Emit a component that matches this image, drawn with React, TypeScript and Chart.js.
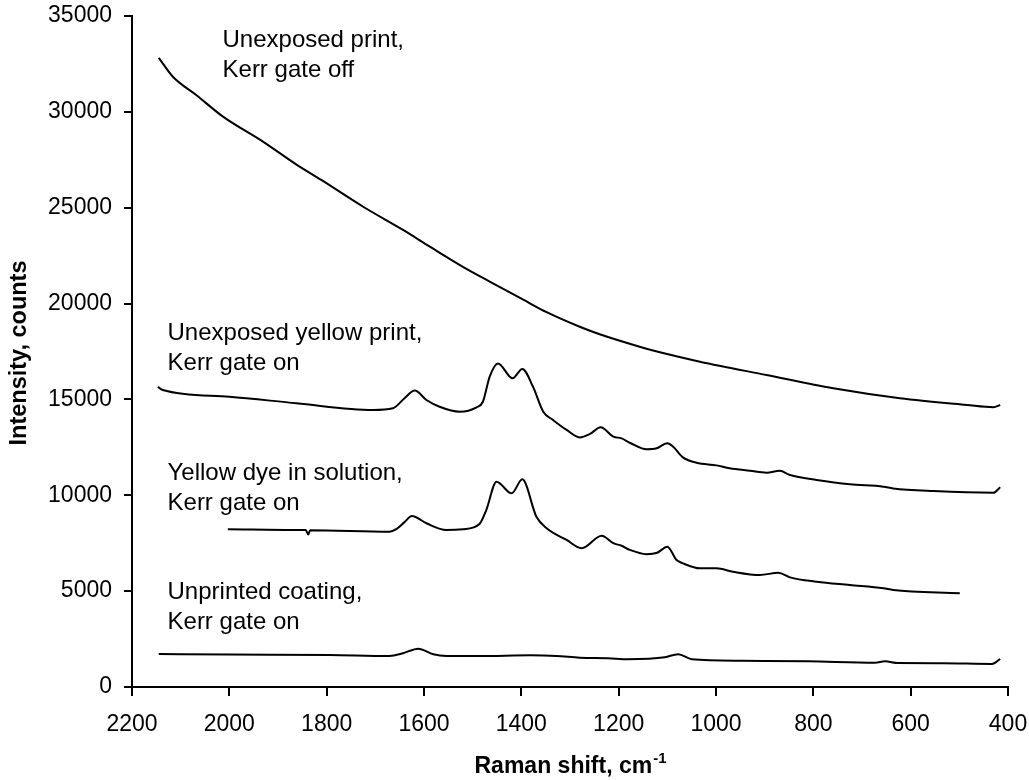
import React, { useEffect, useRef } from 'react';
import { Chart, registerables } from 'chart.js';

Chart.register(...registerables);

const FONT = "'Liberation Sans', Arial, Helvetica, sans-serif";

// Axis tick values
const xTicks = [2200, 2000, 1800, 1600, 1400, 1200, 1000, 800, 600, 400];
const yTicks = [0, 5000, 10000, 15000, 20000, 25000, 30000, 35000];

// Unexposed print, Kerr gate off
const gateOffShift = [2145, 2116, 2068, 2013, 1931, 1862, 1811, 1725, 1643, 1588, 1520, 1465, 1396, 1348, 1280, 1239, 1150, 1109, 1033, 896, 759, 622, 485, 430, 416];
const gateOffCounts = [32820, 31830, 30880, 29750, 28450, 27250, 26450, 25050, 23840, 22970, 21920, 21150, 20200, 19550, 18790, 18400, 17700, 17420, 16970, 16270, 15580, 15060, 14710, 14590, 14710];

// Unexposed yellow print, Kerr gate on
const printShift = [2147, 2137, 2000, 1862, 1705, 1664, 1640, 1619, 1595, 1568, 1527, 1492, 1479, 1465, 1448, 1418, 1398, 1376, 1355, 1335, 1307, 1280, 1259, 1237, 1211, 1194, 1177, 1143, 1122, 1100, 1088, 1068, 1040, 999, 972, 930, 896, 869, 848, 793, 725, 656, 636, 553, 430, 416];
const printCounts = [15660, 15490, 15140, 14800, 14450, 14540, 15060, 15460, 14970, 14620, 14360, 14590, 14880, 16190, 16880, 16100, 16590, 15660, 14360, 13930, 13410, 13020, 13200, 13550, 13060, 12970, 12740, 12400, 12450, 12710, 12530, 11980, 11700, 11560, 11410, 11280, 11180, 11280, 11060, 10800, 10570, 10450, 10360, 10220, 10130, 10420];

// Yellow dye in solution, Kerr gate on
const dyeShift = [2003, 1856, 1843, 1838, 1834, 1671, 1657, 1640, 1625, 1595, 1554, 1520, 1486, 1472, 1451, 1420, 1398, 1369, 1348, 1307, 1276, 1235, 1211, 1194, 1177, 1143, 1121, 1100, 1081, 1068, 1033, 999, 965, 910, 872, 848, 793, 725, 656, 636, 499];
const dyeCounts = [8230, 8190, 8190, 7950, 8180, 8100, 8230, 8600, 8920, 8540, 8190, 8230, 8500, 9230, 10710, 10100, 10830, 8880, 8280, 7670, 7240, 7890, 7500, 7370, 7150, 6930, 7000, 7320, 6620, 6450, 6190, 6190, 6010, 5840, 5960, 5720, 5490, 5320, 5150, 5060, 4890];

// Unprinted coating, Kerr gate on
const coatingShift = [2145, 2000, 1794, 1671, 1643, 1612, 1581, 1554, 1485, 1382, 1328, 1280, 1222, 1181, 1105, 1078, 1050, 947, 810, 673, 653, 626, 535, 433, 416];
const coatingCounts = [1720, 1690, 1670, 1620, 1760, 2000, 1710, 1620, 1620, 1650, 1620, 1530, 1500, 1450, 1550, 1710, 1450, 1370, 1340, 1270, 1340, 1250, 1240, 1200, 1460];

// Curve labels: anchor (shift, counts) of the first line's left baseline
const labelLines = [
  ['Unexposed print,', 'Kerr gate off'],
  ['Unexposed yellow print,', 'Kerr gate on'],
  ['Yellow dye in solution,', 'Kerr gate on'],
  ['Unprinted coating,', 'Kerr gate on'],
];
const labelShift = [2014, 2127, 2127, 2127];
const labelCounts = [33380, 18100, 10800, 4590];

const xTitle = 'Raman shift, cm';
const xTitleSup = '-1';
const yTitle = 'Intensity, counts';

const textPlugin = {
  id: 'customTexts',
  afterDraw(chart: any) {
    const { ctx, chartArea, scales } = chart;
    const xs = scales.x;
    const ys = scales.y;
    ctx.save();
    ctx.fillStyle = '#000';
    ctx.textBaseline = 'alphabetic';
    ctx.textAlign = 'left';
    ctx.font = `24px ${FONT}`;
    labelLines.forEach((lines, i) => {
      const px = xs.getPixelForValue(labelShift[i]);
      const py = ys.getPixelForValue(labelCounts[i]);
      lines.forEach((t, j) => ctx.fillText(t, px, py + j * 30));
    });

    // x axis title with superscript
    ctx.font = `bold 23px ${FONT}`;
    const mainW = ctx.measureText(xTitle).width;
    ctx.font = `bold 15px ${FONT}`;
    const supW = ctx.measureText(xTitleSup).width;
    const cx = (chartArea.left + chartArea.right) / 2;
    const startX = cx - (mainW + supW) / 2;
    ctx.font = `bold 23px ${FONT}`;
    ctx.fillText(xTitle, startX, 773);
    ctx.font = `bold 15px ${FONT}`;
    ctx.fillText(xTitleSup, startX + mainW + 1, 762.5);

    // y axis title
    ctx.translate(19.5, 353);
    ctx.rotate(-Math.PI / 2);
    ctx.textAlign = 'center';
    ctx.textBaseline = 'middle';
    ctx.font = `bold 23.5px ${FONT}`;
    ctx.fillText(yTitle, 0, 0);
    ctx.restore();
  },
};

export default function App() {
  const ref = useRef<HTMLCanvasElement>(null);
  useEffect(() => {
    if (!ref.current) return;
    document.body.style.margin = '0';
    const toPts = (xs: number[], ys: number[]) => xs.map((x, i) => ({ x, y: ys[i] }));
    const mk = (label: string, xs: number[], ys: number[]) => ({
      label,
      data: toPts(xs, ys),
      borderColor: '#000',
      backgroundColor: '#000',
      borderWidth: 2,
      pointRadius: 0,
      fill: false,
      cubicInterpolationMode: 'monotone' as const,
    });
    const chart = new Chart(ref.current, {
      type: 'line',
      data: {
        datasets: [
          mk('Unexposed print, Kerr gate off', gateOffShift, gateOffCounts),
          mk('Unexposed yellow print, Kerr gate on', printShift, printCounts),
          mk('Yellow dye in solution, Kerr gate on', dyeShift, dyeCounts),
          mk('Unprinted coating, Kerr gate on', coatingShift, coatingCounts),
        ],
      },
      options: {
        responsive: false,
        animation: false,
        layout: { padding: { top: 16, right: 21, left: 0, bottom: 0 } },
        plugins: {
          legend: { display: false },
          tooltip: { enabled: false },
        },
        scales: {
          x: {
            type: 'linear',
            reverse: true,
            min: 400,
            max: 2200,
            afterBuildTicks: (s: any) => {
              s.ticks = xTicks.map((v) => ({ value: v }));
            },
            afterFit: (s: any) => {
              s.height = 93;
              s.paddingLeft = 0;
              s.paddingRight = 0;
            },
            grid: { drawOnChartArea: false, drawTicks: true, tickLength: 9, color: '#000', lineWidth: 2 },
            border: { display: true, color: '#000', width: 2 },
            ticks: {
              color: '#000',
              font: { family: FONT, size: 23 },
              padding: 15,
              maxRotation: 0,
              autoSkip: false,
              callback: (v: any) => String(v),
            },
          },
          y: {
            type: 'linear',
            min: 0,
            max: 35000,
            afterBuildTicks: (s: any) => {
              s.ticks = yTicks.map((v) => ({ value: v }));
            },
            afterFit: (s: any) => {
              s.width = 132;
              s.paddingTop = 0;
              s.paddingBottom = 0;
            },
            grid: { drawOnChartArea: false, drawTicks: true, tickLength: 8, color: '#000', lineWidth: 2 },
            border: { display: true, color: '#000', width: 2 },
            ticks: {
              color: '#000',
              font: { family: FONT, size: 23 },
              padding: 12,
              autoSkip: false,
              callback: (v: any) => String(v),
            },
          },
        },
      },
      plugins: [textPlugin],
    });
    return () => chart.destroy();
  }, []);
  return (
    <div style={{ width: 1029, height: 780 }}>
      <canvas ref={ref} width={1029} height={780} style={{ display: 'block' }} />
    </div>
  );
}
